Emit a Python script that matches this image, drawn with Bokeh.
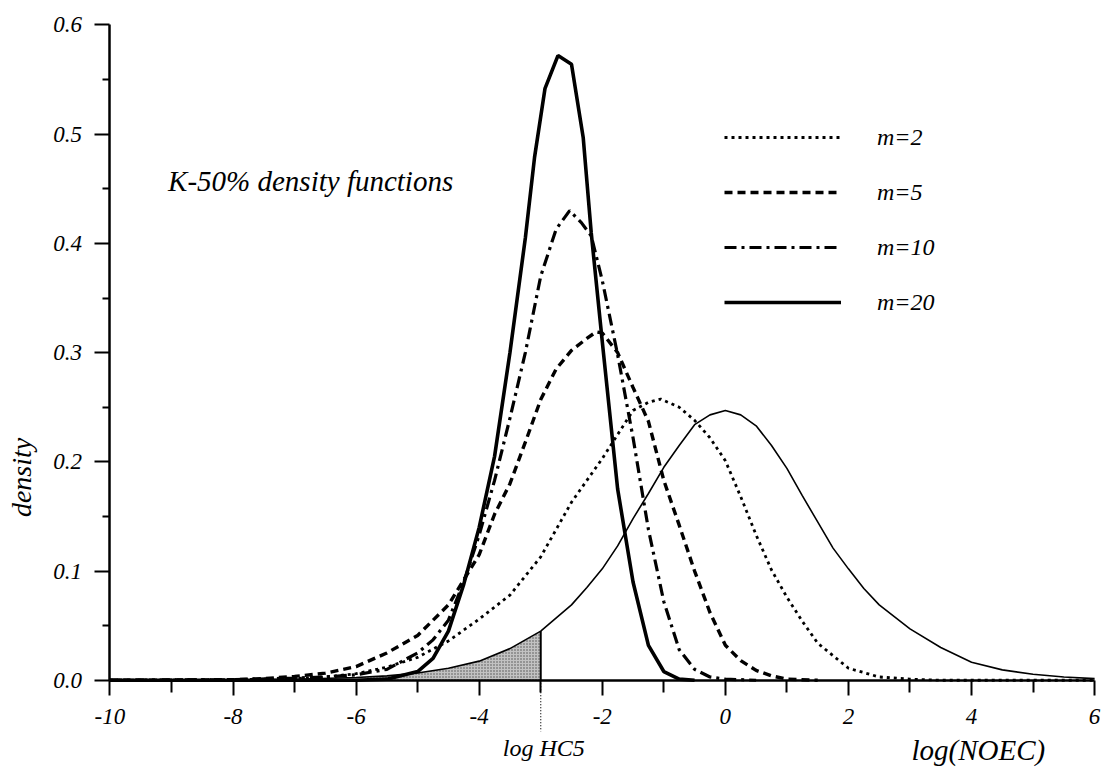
import math
from bokeh.plotting import figure
from bokeh.models import Range1d, FixedTicker, PrintfTickFormatter, Label, Legend, LegendItem
from bokeh.embed import file_html
from bokeh.resources import INLINE

# ---- data ----
x_ticks = [-10, -8, -6, -4, -2, 0, 2, 4, 6]
x_minor = [-9, -7, -5, -3, -1, 1, 3, 5]
y_ticks = [0.0, 0.1, 0.2, 0.3, 0.4, 0.5, 0.6]
y_minor = [0.05, 0.15, 0.25, 0.35, 0.45, 0.55]

hc5 = -3.0

true_x = [-10, -9, -8, -7, -6, -5.5, -5, -4.5, -4, -3.5, -3, -2.5, -2.25, -2, -1.75, -1.5, -1.25,
          -1, -0.75, -0.5, -0.25, 0, 0.25, 0.5, 0.75, 1, 1.25, 1.5, 1.75, 2, 2.25, 2.5, 3, 3.5,
          4, 4.5, 5, 5.5, 6]
true_y = [0.0, 0.0001, 0.0003, 0.0009, 0.0025, 0.004, 0.0066, 0.011, 0.0175, 0.029, 0.045,
          0.069, 0.085, 0.102, 0.123, 0.148, 0.171, 0.195, 0.215, 0.234, 0.243, 0.247, 0.243,
          0.233, 0.215, 0.194, 0.169, 0.145, 0.121, 0.102, 0.084, 0.069, 0.047, 0.03, 0.0165,
          0.0095, 0.0055, 0.003, 0.0015]

m2_x = [-10, -9, -8, -7, -6.5, -6, -5.5, -5, -4.5, -4, -3.5, -3, -2.5, -2, -1.5, -1.25, -1.05,
        -0.75, -0.5, -0.25, 0, 0.25, 0.5, 0.75, 1.0, 1.25, 1.5, 2.0, 2.5, 3.0, 3.5, 6]
m2_y = [0.0, 0.0002, 0.0005, 0.0015, 0.003, 0.006, 0.012, 0.021, 0.036, 0.056, 0.078, 0.113,
        0.163, 0.203, 0.247, 0.2545, 0.2575, 0.25, 0.238, 0.222, 0.201, 0.168, 0.133, 0.101,
        0.076, 0.054, 0.034, 0.011, 0.003, 0.001, 0.0, 0.0]

m5_x = [-10, -9, -8, -7.5, -7, -6.5, -6, -5.5, -5, -4.5, -4, -3.75, -3.5, -3.25, -3, -2.75,
        -2.5, -2.25, -2.1, -2.0, -1.75, -1.5, -1.25, -1.0, -0.75, -0.5, -0.25, 0, 0.25, 0.5,
        0.75, 1.0, 1.5]
m5_y = [0.0, 0.0002, 0.0005, 0.0015, 0.0035, 0.0065, 0.0125, 0.025, 0.041, 0.069, 0.115, 0.152,
        0.18, 0.218, 0.257, 0.285, 0.302, 0.313, 0.319, 0.318, 0.3, 0.268, 0.237, 0.183, 0.142,
        0.1, 0.062, 0.032, 0.018, 0.009, 0.004, 0.001, 0.0]

m10_x = [-10, -9, -8, -7, -6.5, -6, -5.5, -5, -4.75, -4.5, -4.25, -4, -3.75, -3.5, -3.25, -3.0,
         -2.75, -2.53, -2.34, -2.18, -2.0, -1.75, -1.5, -1.25, -1.0, -0.75, -0.5, -0.25, 0, 0.5]
m10_y = [0.0, 0.0002, 0.0005, 0.002, 0.003, 0.005, 0.01, 0.025, 0.037, 0.055, 0.09, 0.133, 0.183,
         0.24, 0.3, 0.37, 0.413, 0.43, 0.419, 0.407, 0.366, 0.298, 0.222, 0.138, 0.072, 0.028,
         0.01, 0.003, 0.001, 0.0]

m20_x = [-10, -6, -5.5, -5.0, -4.75, -4.5, -4.25, -4.0, -3.75, -3.5, -3.25, -3.1, -2.93, -2.72,
         -2.5, -2.31, -2.18, -2.0, -1.75, -1.5, -1.25, -1.0, -0.75, -0.5]
m20_y = [0.0, 0.0, 0.001, 0.008, 0.02, 0.045, 0.088, 0.14, 0.205, 0.3, 0.405, 0.479, 0.542, 0.572,
         0.564, 0.497, 0.41, 0.31, 0.175, 0.09, 0.032, 0.008, 0.001, 0.0]

labels = ["m=2", "m=5", "m=10", "m=20"]

FONT = "Liberation Serif"

# frame fills the whole canvas; axes are pinned at x=-10 and y=0
p = figure(width=1102, height=768, output_backend="svg", toolbar_location=None,
           x_range=Range1d(-11.778, 6.128), y_range=Range1d(-0.0808, 0.6224),
           min_border_left=0, min_border_right=0, min_border_top=0, min_border_bottom=0)
p.xgrid.visible = False
p.ygrid.visible = False
p.outline_line_color = None
p.background_fill_color = "white"

# shaded tail under the true distribution up to log HC5
shade_x = [x for x in true_x if x <= hc5]
shade_y = [y for x, y in zip(true_x, true_y) if x <= hc5]
p.varea(x=shade_x, y1=0, y2=shade_y, fill_color="#c2c2c2",
        hatch_pattern="dot", hatch_color="#505050", hatch_scale=3, hatch_weight=1)
hc5_y = true_y[true_x.index(hc5)]
p.segment(x0=[hc5], y0=[0], x1=[hc5], y1=[hc5_y], line_color="black", line_width=2)
p.segment(x0=[hc5], y0=[0], x1=[hc5], y1=[-0.047], line_color="black", line_width=1.2,
          line_dash="1 2")

# true distribution (thin solid)
p.line(true_x, true_y, line_color="black", line_width=1.6)

r2 = p.line(m2_x, m2_y, line_color="black", line_width=2.8, line_dash="3 4")
r5 = p.line(m5_x, m5_y, line_color="black", line_width=3.4, line_dash="8 5")
r10 = p.line(m10_x, m10_y, line_color="black", line_width=3.2, line_dash="12 5 3 5")
r20 = p.line(m20_x, m20_y, line_color="black", line_width=3.6)

legend = Legend(items=[LegendItem(label=l, renderers=[r]) for l, r in zip(labels, [r2, r5, r10, r20])],
                location=(724, 451), orientation="vertical",
                glyph_width=117, glyph_height=30, label_height=30, spacing=25,
                label_standoff=36, padding=0, margin=0,
                border_line_alpha=0, background_fill_alpha=0,
                label_text_font=FONT, label_text_font_style="italic",
                label_text_font_size="24px", label_text_color="black")
p.add_layout(legend)

# axes
xa = p.xaxis[0]
xa.fixed_location = 0
xa.bounds = (-10, 6)
xa.ticker = FixedTicker(ticks=x_ticks, minor_ticks=x_minor)
xa.major_label_overrides = {t: str(t) for t in x_ticks}
xa.axis_line_width = 2.5
xa.major_tick_line_width = 2
xa.minor_tick_line_width = 2
xa.major_tick_out = 15
xa.major_tick_in = 0
xa.minor_tick_out = 12
xa.minor_tick_in = 0
xa.major_label_standoff = 14
xa.major_label_text_font = FONT
xa.major_label_text_font_style = "italic"
xa.major_label_text_font_size = "23px"
xa.major_label_text_color = "black"

ya = p.yaxis[0]
ya.fixed_location = -10
ya.bounds = (0, 0.6)
ya.ticker = FixedTicker(ticks=y_ticks, minor_ticks=y_minor)
ya.formatter = PrintfTickFormatter(format="%.1f")
ya.axis_line_width = 2.5
ya.major_tick_line_width = 2
ya.minor_tick_line_width = 2
ya.major_tick_out = 15
ya.major_tick_in = 0
ya.minor_tick_out = 7
ya.minor_tick_in = 0
ya.major_label_standoff = 13
ya.major_label_text_font = FONT
ya.major_label_text_font_style = "italic"
ya.major_label_text_font_size = "23px"
ya.major_label_text_color = "black"

p.add_layout(Label(x=-11.434, y=0.1857, text="density", angle=math.pi / 2,
                   text_font=FONT, text_font_style="italic", text_font_size="28px",
                   text_baseline="middle", text_align="center", text_color="black"))
p.add_layout(Label(x=-9.055, y=0.4567, text="K-50% density functions", text_font=FONT,
                   text_font_style="italic", text_font_size="29px", text_baseline="middle",
                   text_align="left", text_color="black"))
p.add_layout(Label(x=hc5, y=-0.0624, x_offset=3, text="log HC5", text_font=FONT,
                   text_font_style="italic", text_font_size="24px", text_baseline="middle",
                   text_align="center", text_color="black"))
p.add_layout(Label(x=4.111, y=-0.0643, text="log(NOEC)", text_font=FONT, text_font_style="italic",
                   text_font_size="29px", text_baseline="middle", text_align="center",
                   text_color="black"))

open("out.html", "w").write(file_html(p, INLINE))
